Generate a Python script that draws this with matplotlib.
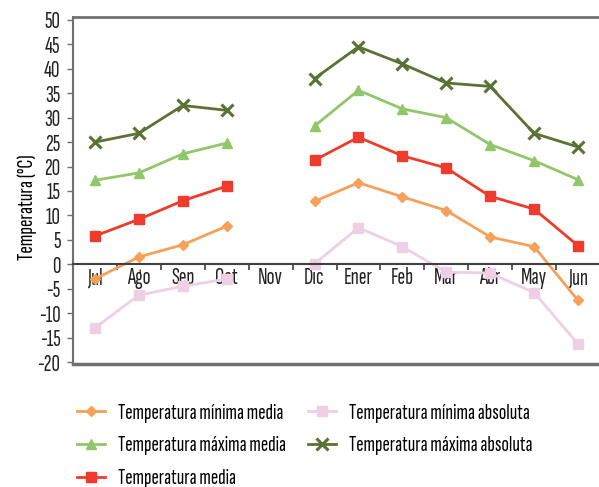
import matplotlib
matplotlib.use("Agg")
import matplotlib.pyplot as plt
import numpy as np
from matplotlib import font_manager
from matplotlib.textpath import TextPath
from matplotlib.font_manager import FontProperties

months = ["Jul", "Ago", "Sep", "Oct", "Nov", "Dic", "Ener", "Feb", "Mar", "Abr", "May", "Jun"]
nan = np.nan
min_media = [-3.0, 1.5, 4.0, 7.8, nan, 12.9, 16.7, 13.8, 11.0, 5.6, 3.6, -7.4]
min_abs = [-13.0, -6.3, -4.5, -3.0, nan, 0.1, 7.5, 3.6, -1.6, -1.8, -5.8, -16.3]
max_media = [17.2, 18.7, 22.6, 24.8, nan, 28.3, 35.6, 31.8, 30.0, 24.5, 21.2, 17.3]
max_abs = [25.0, 26.8, 32.5, 31.5, nan, 38.0, 44.5, 41.0, 37.1, 36.4, 26.8, 24.0]
media = [5.8, 9.2, 13.0, 16.0, nan, 21.3, 26.0, 22.2, 19.7, 13.9, 11.3, 3.8]
yticks = list(range(-20, 55, 5))

names = {f.name for f in font_manager.fontManager.ttflist}
fam = "DejaVu Sans"
for cand in ["Sofia Sans Extra Condensed", "Fira Sans Extra Condensed", "Roboto Condensed"]:
    if cand in names:
        fam = cand
        break
plt.rcParams["font.family"] = [fam, "DejaVu Sans"]

def fit_size(text, target_px):
    w10 = TextPath((0, 0), text, size=10, prop=FontProperties(family=fam)).get_extents().width
    return 10 * target_px / w10  # pixels

fs_px = fit_size("Temperatura mínima media", 164.0)
fs = fs_px * 72 / 100.0
ylab_fs = fit_size("Temperatura (°C)", 105.0) * 72 / 100.0

fig = plt.figure(figsize=(5.99, 4.87), dpi=100)
ax = fig.add_axes([73/599, 1-364/487, 527/599, 347/487])
x = np.arange(len(months))

c_orange = "#f7a05a"
c_pink = "#efcfe4"
c_lgreen = "#92c66a"
c_dgreen = "#5b7234"
c_red = "#ef3b2c"

l1, = ax.plot(x, min_media, color=c_orange, lw=2, marker="D", ms=5, label="Temperatura mínima media")
l2, = ax.plot(x, min_abs, color=c_pink, lw=2, marker="s", ms=6.5, label="Temperatura mínima absoluta")
l3, = ax.plot(x, max_media, color=c_lgreen, lw=2, marker="^", ms=7, label="Temperatura máxima media")
l4, = ax.plot(x, max_abs, color=c_dgreen, lw=2, marker="x", ms=9, mew=2.2, label="Temperatura máxima absoluta")
l5, = ax.plot(x, media, color=c_red, lw=2, marker="s", ms=6.5, label="Temperatura media")

ax.set_xlim(-0.5, 11.5)
ax.set_ylim(-20.4, 50.6)
ax.set_yticks(yticks)
ax.set_yticklabels([str(v) for v in yticks], fontsize=fs*1.05)
ax.set_ylabel("Temperatura (°C)", fontsize=ylab_fs)
ax.yaxis.set_label_coords((37-73)/527, (364-207.5)/347)

spc = "#707070"
ax.spines["left"].set_color(spc)
ax.spines["left"].set_linewidth(1.5)
ax.spines["top"].set_color(spc)
ax.spines["top"].set_linewidth(2)
ax.spines["right"].set_visible(False)
ax.spines["bottom"].set_position(("data", 0))
ax.spines["bottom"].set_color("#404040")
ax.spines["bottom"].set_linewidth(1.5)
ax.axhline(-20.4, color=spc, lw=2.5, clip_on=False)

ax.set_xticks(x)
ax.set_xticklabels(months, fontsize=fs*1.05)
ax.set_xticks(np.arange(-0.5, 11.6, 1), minor=True)
ax.tick_params(axis="x", which="major", length=0, pad=2, colors="#222222")
ax.tick_params(axis="x", which="minor", length=4, width=1.2, color="#404040", direction="out")
ax.tick_params(axis="y", length=4, width=1, color=spc, pad=5, labelcolor="#222222")

em = fs_px
fig.legend(handles=[l1, l3, l5, l2, l4], loc="upper left",
           bbox_to_anchor=(77/599, 1-403/487), borderaxespad=0, borderpad=0,
           ncol=2, frameon=False, fontsize=fs, handlelength=28/em,
           handletextpad=13/em, columnspacing=22/em,
           labelspacing=max(0.3, (40 - 1.2*em)/em))

fig.savefig("out.png", dpi=100)
